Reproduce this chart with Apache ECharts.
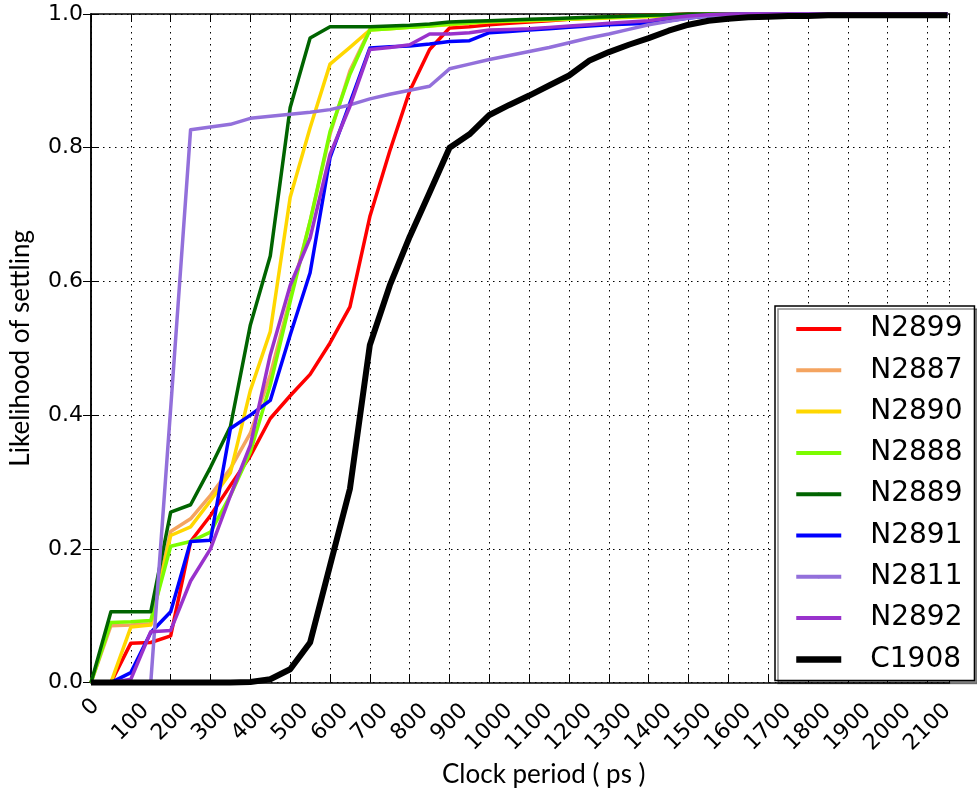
<!DOCTYPE html>
<html>
<head>
<meta charset="utf-8">
<script src="https://cdn.jsdelivr.net/npm/echarts@6/dist/echarts.min.js"></script>
<style>html,body{margin:0;padding:0;background:#fff}#c{width:977px;height:793px}</style>
</head>
<body>
<div id="c"></div>
<script>
const clockPeriod = [0,50,100,150,200,250,300,350,400,450,500,550,600,650,700,750,800,850,900,950,1000,1050,1100,1150,1200,1250,1300,1350,1400,1450,1500,1550,1600,1650,1700,1750,1800,1850,1900,1950,2000,2050,2100,2150];
const xTicks = [0,100,200,300,400,500,600,700,800,900,1000,1100,1200,1300,1400,1500,1600,1700,1800,1900,2000,2100];
const yTicks = [0.0,0.2,0.4,0.6,0.8,1.0];

const N2899 = [0,0,0.059,0.06,0.07,0.211,0.25,0.295,0.339,0.395,0.429,0.461,0.508,0.562,0.697,0.795,0.885,0.947,0.979,0.981,0.984,0.986,0.988,0.99,0.992,0.994,0.996,0.997,0.998,0.999,1,1,1,1,1,1,1,1,1,1,1,1,1,1];
const N2887 = [0,0.085,0.086,0.088,0.226,0.245,0.28,0.32,0.373,0.46,0.575,0.69,0.82,0.915,0.977,0.979,0.981,0.983,0.985,0.987,0.989,0.99,0.991,0.992,0.993,0.994,0.995,0.996,0.997,0.998,0.999,1,1,1,1,1,1,1,1,1,1,1,1,1];
const N2890 = [0,0,0.083,0.086,0.22,0.233,0.272,0.314,0.437,0.525,0.726,0.83,0.925,0.95,0.976,0.978,0.98,0.982,0.984,0.986,0.988,0.989,0.99,0.991,0.992,0.993,0.994,0.995,0.996,0.997,0.998,0.999,1,1,1,1,1,1,1,1,1,1,1,1];
const N2888 = [0,0.09,0.091,0.093,0.204,0.211,0.225,0.28,0.345,0.445,0.57,0.69,0.824,0.91,0.976,0.978,0.98,0.982,0.985,0.987,0.989,0.99,0.991,0.992,0.993,0.994,0.995,0.996,0.997,0.998,0.999,1,1,1,1,1,1,1,1,1,1,1,1,1];
const N2889 = [0,0.106,0.106,0.106,0.255,0.266,0.322,0.383,0.535,0.638,0.86,0.964,0.981,0.981,0.981,0.982,0.983,0.985,0.988,0.989,0.99,0.991,0.992,0.993,0.994,0.995,0.996,0.997,0.998,0.999,1,1,1,1,1,1,1,1,1,1,1,1,1,1];
const N2891 = [0,0,0.015,0.075,0.106,0.211,0.213,0.38,0.40,0.422,0.52,0.613,0.785,0.867,0.949,0.951,0.952,0.955,0.959,0.96,0.972,0.974,0.976,0.978,0.98,0.982,0.984,0.985,0.986,0.99,0.994,0.997,0.999,1,1,1,1,1,1,1,1,1,1,1];
const N2811 = [0,0,0,0,0.41,0.827,0.831,0.835,0.844,0.847,0.85,0.853,0.857,0.864,0.873,0.88,0.886,0.892,0.918,0.925,0.932,0.938,0.944,0.95,0.957,0.964,0.97,0.977,0.984,0.989,0.994,0.997,0.999,1,1,1,1,1,1,1,1,1,1,1];
const N2892 = [0,0,0.005,0.076,0.078,0.152,0.2,0.28,0.355,0.49,0.594,0.665,0.79,0.862,0.947,0.95,0.954,0.97,0.97,0.972,0.976,0.977,0.978,0.98,0.982,0.984,0.986,0.988,0.99,0.994,0.997,0.999,1,1,1,1,1,1,1,1,1,1,1,1];
const C1908 = [0,0,0,0,0,0,0,0,0.001,0.005,0.02,0.06,0.175,0.29,0.505,0.594,0.667,0.733,0.80,0.82,0.849,0.864,0.878,0.893,0.908,0.930,0.943,0.954,0.964,0.975,0.984,0.990,0.993,0.995,0.996,0.997,0.997,0.998,0.998,0.998,0.998,0.998,0.998,0.998];

const seriesNames = ['N2899','N2887','N2890','N2888','N2889','N2891','N2811','N2892','C1908'];
const seriesValues = [N2899,N2887,N2890,N2888,N2889,N2891,N2811,N2892,C1908];
const seriesColors = ['#ff0000','#f4a460','#ffd700','#7cfc00','#006400','#0000ff','#9370db','#9932cc','#000000'];
const seriesWidths = [3.5,3.5,3.5,3.5,3.5,3.5,3.5,3.5,6];
const legendWidths = [4,4,4,4,4,4,4,4,6.5];

const chart = echarts.init(document.getElementById('c'), null, {renderer:'canvas'});
const tickFont = 'DejaVu Sans';
const rich = {};
for (let n = 1; n <= 4; n++) {
  const p = n === 1 ? 0 : 7 * n;
  rich['d' + n] = {fontSize: 22, fontFamily: tickFont, color: '#000', lineHeight: 22, padding: [p, p, 0, 0]};
}
const gridLine = {show: true, lineStyle: {color: '#000', width: 1, type: [1.5, 4.5]}};
const axisLineStyle = {show: true, lineStyle: {color: '#000', width: 1.5}};
const tickStyle = {show: true, inside: true, length: 8, lineStyle: {color: '#000', width: 1}};
const xMax = 2155;

const option = {
  backgroundColor: '#fff',
  animation: false,
  grid: {left: 88, right: 9, top: 14, bottom: 100, containLabel: false},
  legend: {
    orient: 'vertical', left: 775, top: 306,
    data: seriesNames.map((n, i) => ({name: n, lineStyle: {width: legendWidths[i]}})),
    itemWidth: 45, itemHeight: 4, itemGap: 9.3,
    padding: [7, 12, 5, 18],
    backgroundColor: '#fff', borderColor: '#000', borderWidth: 1.5, borderRadius: 0,
    shadowColor: 'rgba(0,0,0,0.45)', shadowOffsetX: 3, shadowOffsetY: 3, shadowBlur: 0,
    textStyle: {fontFamily: tickFont, fontSize: 28, color: '#000', lineHeight: 32, padding: [0, 0, 0, 24]}
  },
  xAxis: [{
    // labels only (half-step ticks so the first two labels are never judged overlapping)
    type: 'value', min: 0, max: xMax, interval: 50, position: 'bottom',
    axisLine: axisLineStyle, axisTick: {show: false}, splitLine: {show: false},
    axisLabel: {
      rotate: 45, align: 'center', verticalAlign: 'middle', margin: 25, showMaxLabel: false, showMinLabel: true,
      formatter: function (v) { if (xTicks.indexOf(v) < 0) return ''; const s = String(v); return '{d' + s.length + '|' + s + '}'; },
      rich: rich
    },
    name: 'Clock period ( ps )', nameLocation: 'middle', nameGap: 66,
    nameTextStyle: {fontFamily: 'Lato', fontSize: 26, color: '#000', padding: [0, 0, 0, 47]}
  }, {
    // ticks and grid
    type: 'value', min: 0, max: xMax, interval: 100, position: 'bottom',
    axisLine: {show: false}, axisTick: tickStyle, splitLine: gridLine, axisLabel: {show: false}
  }, {
    type: 'value', min: 0, max: xMax, interval: 100, position: 'top',
    axisLine: axisLineStyle, axisTick: tickStyle, splitLine: {show: false}, axisLabel: {show: false}
  }],
  yAxis: [{
    type: 'value', min: 0, max: 1, interval: 0.2, position: 'left',
    axisLine: axisLineStyle, axisTick: tickStyle, splitLine: gridLine,
    axisLabel: {fontFamily: tickFont, fontSize: 22, color: '#000', margin: 8, showMinLabel: true,
      formatter: function (v) { return yTicks.some(t => Math.abs(t - v) < 1e-9) ? v.toFixed(1) : ''; }},
    name: 'Likelihood of settling', nameLocation: 'middle', nameGap: 57,
    nameTextStyle: {fontFamily: 'Lato', fontSize: 26, color: '#000'}
  }, {
    type: 'value', min: 0, max: 1, interval: 0.2, position: 'right',
    axisLine: axisLineStyle, axisTick: tickStyle, splitLine: {show: false}, axisLabel: {show: false}
  }],
  series: seriesNames.map((name, i) => ({
    name: name, type: 'line', xAxisIndex: 0, yAxisIndex: 0,
    data: clockPeriod.map((x, j) => [x, seriesValues[i][j]]),
    symbol: 'none', showSymbol: false, clip: false,
    color: seriesColors[i],
    lineStyle: {color: seriesColors[i], width: seriesWidths[i], join: 'round'},
    itemStyle: {color: seriesColors[i]},
    emphasis: {disabled: true}
  }))
};
chart.setOption(option);
</script>
</body>
</html>
